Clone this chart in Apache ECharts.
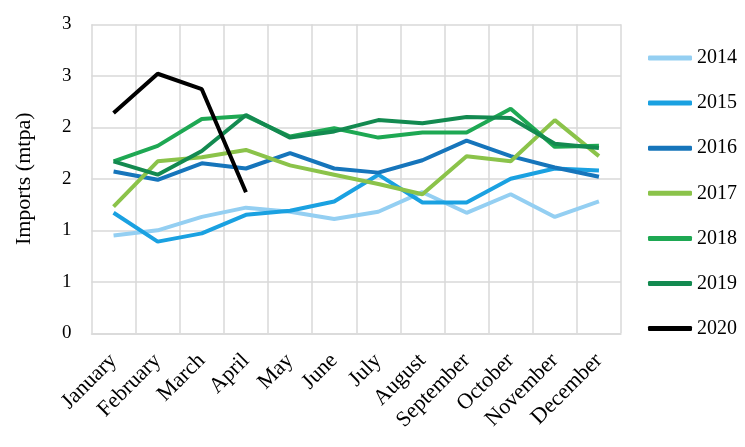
<!DOCTYPE html>
<html>
<head>
<meta charset="utf-8">
<script src="https://cdn.jsdelivr.net/npm/echarts@6/dist/echarts.min.js"></script>
<style>
html,body{margin:0;padding:0;background:#fff;}
#chart{width:745px;height:447px;}
</style>
</head>
<body>
<div id="chart"></div>
<script>
const months = ["January","February","March","April","May","June","July","August","September","October","November","December"];
const years = ["2014","2015","2016","2017","2018","2019","2020"];
const v2014 = [0.95, 1.00, 1.13, 1.22, 1.18, 1.11, 1.18, 1.37, 1.17, 1.35, 1.13, 1.28];
const v2015 = [1.17, 0.89, 0.97, 1.15, 1.19, 1.28, 1.54, 1.27, 1.27, 1.50, 1.60, 1.58];
const v2016 = [1.57, 1.49, 1.65, 1.60, 1.75, 1.60, 1.56, 1.68, 1.87, 1.72, 1.61, 1.52];
const v2017 = [1.23, 1.67, 1.71, 1.78, 1.63, 1.54, 1.45, 1.35, 1.72, 1.67, 2.07, 1.72];
const v2018 = [1.67, 1.82, 2.08, 2.11, 1.91, 1.99, 1.90, 1.95, 1.95, 2.18, 1.81, 1.82];
const v2019 = [1.67, 1.54, 1.77, 2.12, 1.90, 1.96, 2.07, 2.04, 2.10, 2.09, 1.84, 1.80];
const v2020 = [2.14, 2.52, 2.37, 1.37];
const yTicks = [0, 0.5, 1, 1.5, 2, 2.5, 3];

const seriesData = [v2014, v2015, v2016, v2017, v2018, v2019, v2020];
const colors = ["#94cff2", "#1aa1e1", "#1675bb", "#8bc34a", "#1ea853", "#138a50", "#000000"];
const serif = "'Liberation Serif', 'DejaVu Serif', serif";

const chart = echarts.init(document.getElementById('chart'), null, {renderer: 'canvas'});
chart.setOption({
  animation: false,
  color: colors,
  grid: {left: 91.5, right: 124, top: 24.3, bottom: 113.7, containLabel: false},
  legend: {
    orient: 'vertical',
    left: 643,
    top: 43,
    icon: 'roundRect',
    itemWidth: 44,
    itemHeight: 5,
    itemGap: 25.1,
    data: years,
    textStyle: {fontFamily: serif, fontSize: 20, color: '#000'}
  },
  xAxis: {
    type: 'category',
    data: months,
    boundaryGap: true,
    axisLine: {show: true, lineStyle: {color: '#d9d9d9', width: 1.5}},
    axisTick: {show: false},
    splitLine: {show: true, lineStyle: {color: '#d9d9d9', width: 1.5}},
    axisLabel: {rotate: 45, interval: 0, margin: 24, fontFamily: serif, fontSize: 22, color: '#000'}
  },
  yAxis: {
    type: 'value',
    min: 0, max: 3, interval: 0.5,
    name: 'Imports (mtpa)',
    nameLocation: 'middle',
    nameGap: 56,
    nameTextStyle: {fontFamily: serif, fontSize: 22, color: '#000'},
    axisLine: {show: false},
    axisTick: {show: false},
    splitLine: {show: true, lineStyle: {color: '#d9d9d9', width: 1.5}},
    axisLabel: {
      margin: 20, fontFamily: serif, fontSize: 19, color: '#000',
      formatter: v => String(Math.round(v))
    }
  },
  series: seriesData.map((d, i) => ({
    name: years[i],
    type: 'line',
    data: d,
    symbol: 'none',
    lineStyle: {width: 4, color: colors[i]},
    itemStyle: {color: colors[i]}
  }))
});
</script>
</body>
</html>
